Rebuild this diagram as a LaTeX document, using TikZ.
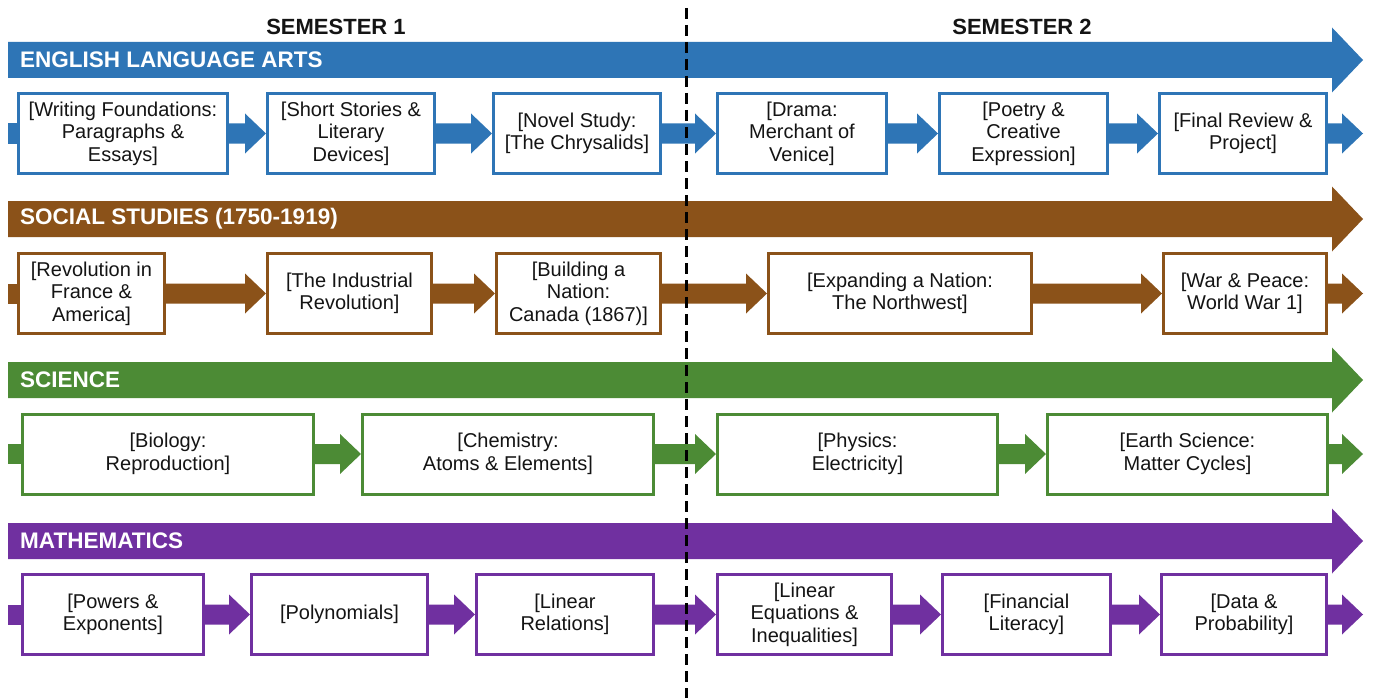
\documentclass[tikz,border=0pt]{standalone}
\usepackage{fontspec}
\setmainfont{Liberation Sans}
\usetikzlibrary{calc}
\definecolor{elablue}{HTML}{2E75B6}
\definecolor{ssbrown}{HTML}{8B5219}
\definecolor{scigreen}{HTML}{4C8B35}
\definecolor{mathpurple}{HTML}{7030A0}

\begin{document}
\begin{tikzpicture}[x=1pt,y=-1pt,
    unit/.style={draw=#1,line width=3pt,fill=white,minimum height=80pt,align=center,
      text=black!92,inner sep=2pt,font=\fontsize{20}{22.5}\selectfont},
    subject/.style={anchor=west,inner sep=0pt,text=white,font=\bfseries\fontsize{22.5}{24}\selectfont},
    semester/.style={text=black!92,font=\bfseries\fontsize{22}{24}\selectfont},
    divider/.style={line width=3pt,dash pattern=on 11pt off 6pt}]
  \useasboundingbox[fill=white] (0,0) rectangle (1375,698);

  % subject bands
  \foreach \yc/\col in {60/elablue,219/ssbrown,380/scigreen,541/mathpurple}
    \fill[\col] (8,\yc-18) -- (1332,\yc-18) -- (1332,\yc-32.5) -- (1363,\yc)
      -- (1332,\yc+32.5) -- (1332,\yc+18) -- (8,\yc+18) -- cycle;
  \node[subject] (elalabel) at (20,60) {ENGLISH LANGUAGE ARTS};
  \node[subject] (sslabel) at (20,219) {SOCIAL STUDIES (1750-1919)};
  \node[subject] (scilabel) at (20,380) {SCIENCE};
  \node[subject] (mathlabel) at (20,541) {MATHEMATICS};

  \node[semester] (sem1) at (336,27) {SEMESTER 1};
  \node[semester] (sem2) at (1022,27) {SEMESTER 2};

  % english
  \node[unit=elablue,minimum width=209pt] (ela1) at (123,133.5) {[Writing Foundations:\\Paragraphs \&\\Essays]};
  \node[unit=elablue,minimum width=167pt] (ela2) at (351,133.5) {[Short Stories \&\\Literary\\Devices]};
  \node[unit=elablue,minimum width=167pt] (ela3) at (577,133.5) {[Novel Study:\\{[}The Chrysalids]};
  \node[unit=elablue,minimum width=169pt] (ela4) at (802,133.5) {[Drama:\\Merchant of\\Venice]};
  \node[unit=elablue,minimum width=168pt] (ela5) at (1023.5,133.5) {[Poetry \&\\Creative\\Expression]};
  \node[unit=elablue,minimum width=167pt] (ela6) at (1243,133.5) {[Final Review \&\\Project]};
  \coordinate (elain) at (8,133.5);
  \coordinate (elaout) at (1363,133.5);
  \fill[elablue] ($(elain)+(0,-10)$) rectangle ($(ela1.west)+(0,10)$);
  \foreach \a/\b in {ela1/ela2,ela2/ela3,ela3/ela4,ela4/ela5,ela5/ela6,ela6/elaout}
    \fill[elablue] ($(\a.east)+(0,-10)$) -- ($(\b.180)+(-21,-10)$) -- ($(\b.180)+(-21,-20)$) -- (\b.180)
      -- ($(\b.180)+(-21,20)$) -- ($(\b.180)+(-21,10)$) -- ($(\a.east)+(0,10)$) -- cycle;

  % social studies
  \node[unit=ssbrown,minimum width=146pt] (ss1) at (91.5,293.5) {[Revolution in\\France \&\\America]};
  \node[unit=ssbrown,minimum width=164pt] (ss2) at (349.5,293.5) {[The Industrial\\Revolution]};
  \node[unit=ssbrown,minimum width=164pt] (ss3) at (578.5,293.5) {[Building a\\Nation:\\Canada (1867)]};
  \node[unit=ssbrown,minimum width=263pt] (ss4) at (900,293.5) {[Expanding a Nation:\\The Northwest]};
  \node[unit=ssbrown,minimum width=163pt] (ss5) at (1245,293.5) {[War \& Peace:\\World War 1]};
  \coordinate (ssin) at (8,293.5);
  \coordinate (ssout) at (1363,293.5);
  \fill[ssbrown] ($(ssin)+(0,-10)$) rectangle ($(ss1.west)+(0,10)$);
  \foreach \a/\b in {ss1/ss2,ss2/ss3,ss3/ss4,ss4/ss5,ss5/ssout}
    \fill[ssbrown] ($(\a.east)+(0,-10)$) -- ($(\b.180)+(-21,-10)$) -- ($(\b.180)+(-21,-20)$) -- (\b.180)
      -- ($(\b.180)+(-21,20)$) -- ($(\b.180)+(-21,10)$) -- ($(\a.east)+(0,10)$) -- cycle;

  % science
  \node[unit=scigreen,minimum width=291pt] (sci1) at (168,454) {[Biology:\\Reproduction]};
  \node[unit=scigreen,minimum width=291pt] (sci2) at (508,454) {[Chemistry:\\Atoms \& Elements]};
  \node[unit=scigreen,minimum width=280pt] (sci3) at (857.5,454) {[Physics:\\Electricity]};
  \node[unit=scigreen,minimum width=280pt] (sci4) at (1187.5,454) {[Earth Science:\\Matter Cycles]};
  \coordinate (sciin) at (8,454);
  \coordinate (sciout) at (1363,454);
  \fill[scigreen] ($(sciin)+(0,-10)$) rectangle ($(sci1.west)+(0,10)$);
  \foreach \a/\b in {sci1/sci2,sci2/sci3,sci3/sci4,sci4/sciout}
    \fill[scigreen] ($(\a.east)+(0,-10)$) -- ($(\b.180)+(-21,-10)$) -- ($(\b.180)+(-21,-20)$) -- (\b.180)
      -- ($(\b.180)+(-21,20)$) -- ($(\b.180)+(-21,10)$) -- ($(\a.east)+(0,10)$) -- cycle;

  % mathematics
  \node[unit=mathpurple,minimum width=181pt] (math1) at (113,614.5) {[Powers \&\\Exponents]};
  \node[unit=mathpurple,minimum width=176pt] (math2) at (339.5,614.5) {[Polynomials]};
  \node[unit=mathpurple,minimum width=177pt] (math3) at (565,614.5) {[Linear\\Relations]};
  \node[unit=mathpurple,minimum width=174pt] (math4) at (804.5,614.5) {[Linear\\Equations \&\\Inequalities]};
  \node[unit=mathpurple,minimum width=168pt] (math5) at (1026.5,614.5) {[Financial\\Literacy]};
  \node[unit=mathpurple,minimum width=165pt] (math6) at (1244,614.5) {[Data \&\\Probability]};
  \coordinate (mathin) at (8,614.5);
  \coordinate (mathout) at (1363,614.5);
  \fill[mathpurple] ($(mathin)+(0,-10)$) rectangle ($(math1.west)+(0,10)$);
  \foreach \a/\b in {math1/math2,math2/math3,math3/math4,math4/math5,math5/math6,math6/mathout}
    \fill[mathpurple] ($(\a.east)+(0,-10)$) -- ($(\b.180)+(-21,-10)$) -- ($(\b.180)+(-21,-20)$) -- (\b.180)
      -- ($(\b.180)+(-21,20)$) -- ($(\b.180)+(-21,10)$) -- ($(\a.east)+(0,10)$) -- cycle;

  % semester divider
  \coordinate (divtop) at (686,8);
  \coordinate (divbot) at (686,698);
  \draw[divider] (divtop) -- (divbot);
\end{tikzpicture}
\end{document}
